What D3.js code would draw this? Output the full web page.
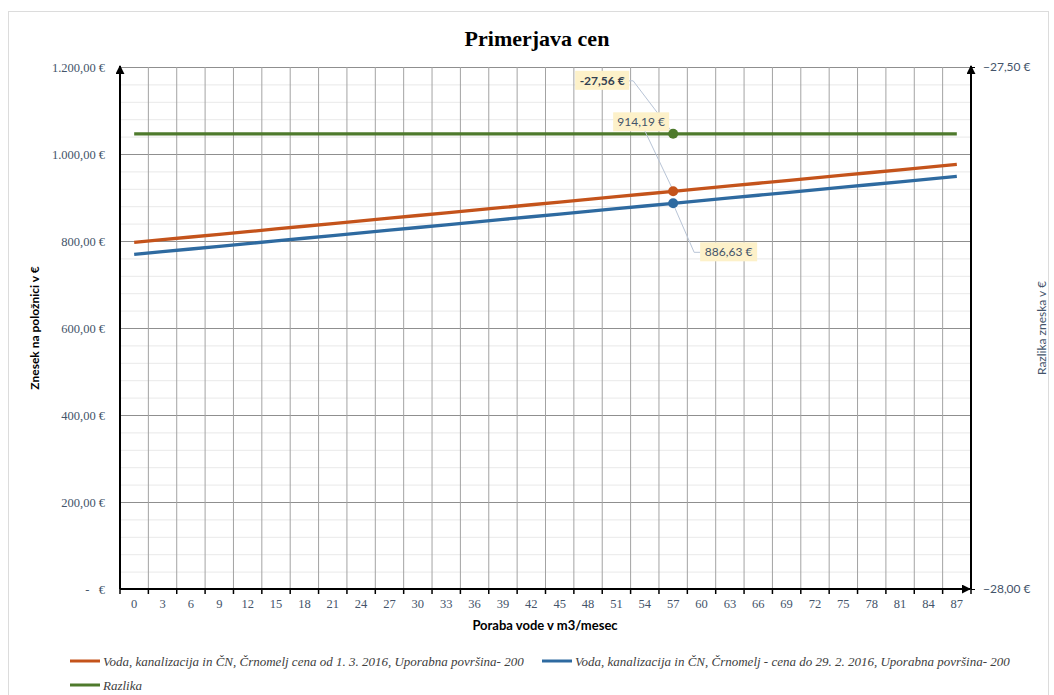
<!DOCTYPE html>
<html>
<head>
<meta charset="utf-8">
<script src="https://cdn.jsdelivr.net/npm/d3@7"></script>
<style>
  body { margin: 0; background: #fff; }
  svg { display: block; }
</style>
</head>
<body>
<div id="chart"></div>
<script>
// usage categories (m3 / month)
var usage = [0, 3, 6, 9, 12, 15, 18, 21, 24, 27, 30, 33, 36, 39, 42, 45, 48, 51, 54, 57, 60, 63, 66, 69, 72, 75, 78, 81, 84, 87];

// price from 1. 3. 2016
var priceNew = [796.80, 802.98, 809.16, 815.34, 821.51, 827.69, 833.87, 840.05, 846.23, 852.41,
                858.59, 864.76, 870.94, 877.12, 883.30, 889.48, 895.66, 901.83, 908.01, 914.19,
                920.37, 926.55, 932.73, 938.91, 945.08, 951.26, 957.44, 963.62, 969.80, 975.98];

// price until 29. 2. 2016
var priceOld = [769.24, 775.42, 781.60, 787.78, 793.95, 800.13, 806.31, 812.49, 818.67, 824.85,
                831.03, 837.20, 843.38, 849.56, 855.74, 861.92, 868.10, 874.27, 880.45, 886.63,
                892.81, 898.99, 905.17, 911.35, 917.52, 923.70, 929.88, 936.06, 942.24, 948.42];

// difference (right axis)
var razlika = [-27.564, -27.564, -27.564, -27.564, -27.564, -27.564, -27.564, -27.564, -27.564, -27.564,
               -27.564, -27.564, -27.564, -27.564, -27.564, -27.564, -27.564, -27.564, -27.564, -27.564,
               -27.564, -27.564, -27.564, -27.564, -27.564, -27.564, -27.564, -27.564, -27.564, -27.564];

var leftTicks = [0, 200, 400, 600, 800, 1000, 1200];
var rightTicks = [-28, -27.5];
var labelAt = 57;

var seriesNames = [
  "Voda, kanalizacija in ČN, Črnomelj cena od 1. 3. 2016, Uporabna površina- 200",
  "Voda, kanalizacija in ČN, Črnomelj - cena do 29. 2. 2016, Uporabna površina- 200",
  "Razlika"
];
var colors = ["#c4531b", "#2e6aa0", "#4e7a2c"];

var svgWidth = 1054, svgHeight = 695;
var margin = { top: 67, right: 83, bottom: 106, left: 120 };
var width = svgWidth - margin.left - margin.right;
var height = svgHeight - margin.top - margin.bottom;

var serif = "'Liberation Serif', 'Times New Roman', serif";
var sans = "Lato, 'Open Sans', sans-serif";
var slate = "#44546a";

var svg = d3.select("#chart").append("svg")
    .attr("width", svgWidth)
    .attr("height", svgHeight);

// arrow heads
var defs = svg.append("defs");
defs.append("marker")
    .attr("id", "arrow")
    .attr("viewBox", "0 0 10 10")
    .attr("refX", 9).attr("refY", 5)
    .attr("markerWidth", 4.5).attr("markerHeight", 4.5)
    .attr("orient", "auto")
    .append("path").attr("d", "M0,0 L10,5 L0,10 z").attr("fill", "#000");

// card frame
svg.append("rect")
    .attr("x", 8.5).attr("y", 11.5)
    .attr("width", 1040).attr("height", 700)
    .attr("fill", "#fff")
    .attr("stroke", "#dcdcdc");

// title
svg.append("text")
    .attr("x", 537).attr("y", 46)
    .attr("text-anchor", "middle")
    .style("font-family", serif)
    .style("font-weight", "bold")
    .style("font-size", "22px")
    .text("Primerjava cen");

var chartGroup = svg.append("g").attr("transform", `translate(${margin.left}, ${margin.top})`);

// scales
var xScale = d3.scaleBand().domain(usage).range([0, width]);
var yLeft = d3.scaleLinear().domain([0, 1200]).range([height, 0]);
var yRight = d3.scaleLinear().domain([-28, -27.5]).range([height, 0]);

// minor horizontal grid every 40
chartGroup.append("g")
    .call(d3.axisLeft(yLeft).tickValues(d3.range(0, 1201, 40)).tickSize(-width).tickFormat(""))
    .call(g => g.select(".domain").remove())
    .selectAll("line").attr("stroke", "#e9e9e9");

// major horizontal grid
chartGroup.append("g")
    .call(d3.axisLeft(yLeft).tickValues(leftTicks).tickSize(-width).tickFormat(""))
    .call(g => g.select(".domain").remove())
    .selectAll("line").attr("stroke", "#8f8f8f");

// vertical grid at category boundaries
var bounds = usage.map(d => xScale(d)).concat([width]);
chartGroup.append("g").selectAll("line")
    .data(bounds)
    .enter()
    .append("line")
    .attr("x1", d => d).attr("x2", d => d)
    .attr("y1", 0).attr("y2", height)
    .attr("stroke", "#a3a3a3");

// left axis labels
var euroFmt = function(v) {
  if (v === 0) return "-   €";
  var s = d3.format(",.2f")(v);
  s = s.replace(/,/g, "#").replace(".", ",").replace(/#/g, ".");
  return s + " €";
};
chartGroup.append("g")
    .call(d3.axisLeft(yLeft).tickValues(leftTicks).tickSize(0).tickPadding(15).tickFormat(euroFmt))
    .call(g => g.select(".domain").remove())
    .selectAll("text")
    .style("font-family", serif)
    .style("font-size", "12.5px")
    .style("white-space", "pre")
    .attr("fill", slate);

// right axis labels
chartGroup.append("g")
    .attr("transform", `translate(${width}, 0)`)
    .call(d3.axisRight(yRight).tickValues(rightTicks).tickSize(4).tickPadding(8)
        .tickFormat(v => d3.format(".2f")(v).replace(".", ",") + " €"))
    .call(g => g.select(".domain").remove())
    .call(g => g.selectAll("line").attr("stroke", "#000"))
    .selectAll("text")
    .style("font-family", sans)
    .style("font-size", "12px")
    .attr("fill", slate);

// x axis labels
chartGroup.append("g")
    .attr("transform", `translate(0, ${height})`)
    .call(d3.axisBottom(xScale).tickSize(0).tickPadding(10))
    .call(g => g.select(".domain").remove())
    .selectAll("text")
    .style("font-family", serif)
    .style("font-size", "12.5px")
    .attr("fill", slate);

// x tick marks
chartGroup.append("g").selectAll("line")
    .data(bounds)
    .enter()
    .append("line")
    .attr("x1", d => d).attr("x2", d => d)
    .attr("y1", height).attr("y2", height + 5)
    .attr("stroke", "#000").attr("stroke-width", 1.5);

// axis lines with arrows
chartGroup.append("line")
    .attr("x1", 0).attr("y1", height).attr("x2", 0).attr("y2", -1)
    .attr("stroke", "#000").attr("stroke-width", 2).attr("marker-end", "url(#arrow)");
chartGroup.append("line")
    .attr("x1", width).attr("y1", height).attr("x2", width).attr("y2", -1)
    .attr("stroke", "#000").attr("stroke-width", 2).attr("marker-end", "url(#arrow)");
chartGroup.append("line")
    .attr("x1", 0).attr("y1", height).attr("x2", width - 1).attr("y2", height)
    .attr("stroke", "#000").attr("stroke-width", 2).attr("marker-end", "url(#arrow)");

// axis titles
svg.append("text")
    .attr("transform", `translate(39, ${margin.top + height / 2}) rotate(-90)`)
    .attr("text-anchor", "middle")
    .style("font-family", sans)
    .style("font-weight", "bold")
    .style("font-size", "12px")
    .text("Znesek na položnici v €");

svg.append("text")
    .attr("transform", `translate(1046, ${margin.top + height / 2}) rotate(-90)`)
    .attr("text-anchor", "middle")
    .style("font-family", sans)
    .style("font-size", "12px")
    .attr("fill", slate)
    .text("Razlika zneska v €");

svg.append("text")
    .attr("x", 545).attr("y", 630)
    .attr("text-anchor", "middle")
    .style("font-family", sans)
    .style("font-weight", "bold")
    .style("font-size", "13px")
    .text("Poraba vode v m3/mesec");

// lines
var cx = d => xScale(d) + xScale.bandwidth() / 2;
var lineLeft = d3.line().x((d, i) => cx(usage[i])).y(d => yLeft(d));
var lineRight = d3.line().x((d, i) => cx(usage[i])).y(d => yRight(d));

chartGroup.append("path").datum(razlika)
    .attr("d", lineRight).attr("fill", "none")
    .attr("stroke", colors[2]).attr("stroke-width", 3.3);
chartGroup.append("path").datum(priceNew)
    .attr("d", lineLeft).attr("fill", "none")
    .attr("stroke", colors[0]).attr("stroke-width", 3.3);
chartGroup.append("path").datum(priceOld)
    .attr("d", lineLeft).attr("fill", "none")
    .attr("stroke", colors[1]).attr("stroke-width", 3.3);

// highlighted points with callouts
var idx = usage.indexOf(labelAt);
var px = cx(labelAt);
var callouts = [
  { y: yRight(razlika[idx]), color: colors[2], text: "-27,56 €", bold: true, dx: -98, dy: -63, w: 54 },
  { y: yLeft(priceNew[idx]), color: colors[0], text: d3.format(".2f")(priceNew[idx]).replace(".", ",") + " €", bold: false, dx: -60, dy: -79, w: 56 },
  { y: yLeft(priceOld[idx]), color: colors[1], text: d3.format(".2f")(priceOld[idx]).replace(".", ",") + " €", bold: false, dx: 27, dy: 39, w: 57 }
];

callouts.forEach(function(c) {
  var bx = px + c.dx, by = c.y + c.dy;
  // leader line
  var lx = c.dx < 0 ? bx + c.w : bx;
  var pts = c.dx < 0 ? [[lx, by + 10], [lx + 4, by + 10], [px - 2, c.y - 3]]
                     : [[lx, by + 10], [lx - 6, by + 10], [px + 1, c.y + 3]];
  if (!c.bold && c.dx < 0) pts = [[bx + 30, by + 15], [px - 1, c.y - 3]];
  chartGroup.append("path")
      .attr("d", d3.line()(pts))
      .attr("fill", "none")
      .attr("stroke", "#b8c4d6").attr("stroke-width", 1);
});

callouts.forEach(function(c) {
  chartGroup.append("circle")
      .attr("cx", px).attr("cy", c.y).attr("r", 5)
      .attr("fill", c.color);
});

callouts.forEach(function(c) {
  var bx = px + c.dx, by = c.y + c.dy;
  chartGroup.append("rect")
      .attr("x", bx).attr("y", by)
      .attr("width", c.w).attr("height", 19)
      .attr("fill", "#fdf1c9");
  chartGroup.append("text")
      .attr("x", bx + c.w / 2).attr("y", by + 14)
      .attr("text-anchor", "middle")
      .style("font-family", sans)
      .style("font-weight", c.bold ? "bold" : "normal")
      .style("font-size", "12px")
      .attr("fill", c.bold ? "#333f50" : slate)
      .text(c.text);
});

// legend
var legendItems = [
  { x: 70, y: 661 },
  { x: 542, y: 661 },
  { x: 70, y: 685 }
];
var legend = svg.append("g");
legendItems.forEach(function(p, i) {
  legend.append("line")
      .attr("x1", p.x).attr("x2", p.x + 30)
      .attr("y1", p.y).attr("y2", p.y)
      .attr("stroke", colors[i]).attr("stroke-width", 3);
  legend.append("text")
      .attr("x", p.x + 33).attr("y", p.y + 4.5)
      .style("font-family", serif)
      .style("font-style", "italic")
      .style("font-size", "13px")
      .attr("fill", "#404040")
      .text(seriesNames[i]);
});
</script>
</body>
</html>
